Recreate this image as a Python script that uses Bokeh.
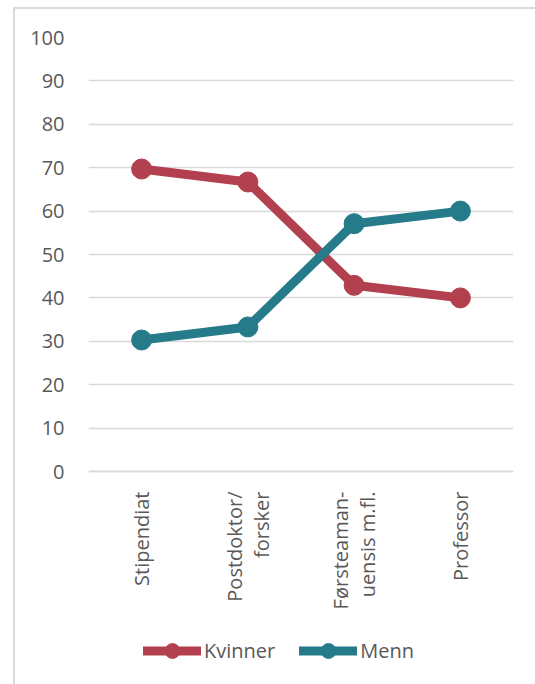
from bokeh.plotting import figure
from bokeh.models import FactorRange, Range1d, FixedTicker, Legend, LegendItem
from bokeh.embed import file_html
from bokeh.resources import INLINE

categories = ["Stipendiat", "Postdoktor/\nforsker", "Førsteaman-\nuensis m.fl.", "Professor"]
kvinner = [69.7, 66.7, 42.9, 40.0]
menn = [30.3, 33.3, 57.1, 60.0]
y_ticks = [0, 10, 20, 30, 40, 50, 60, 70, 80, 90, 100]

RED = "#B2404E"
TEAL = "#257B8A"
TXT = "#595959"
GRID = "#D9D9D9"
FONT = "Open Sans"

# frame extends below the value axis so the category labels and legend live inside it
PX_PER_UNIT = 4.34
FRAME_H = 647
Y_MAX = 100
Y_MIN = Y_MAX - FRAME_H / PX_PER_UNIT

p = figure(frame_width=425, frame_height=FRAME_H,
           x_range=FactorRange(*categories, range_padding=0),
           y_range=Range1d(Y_MIN, Y_MAX), output_backend="svg", toolbar_location=None,
           min_border_left=73, min_border_right=22, min_border_top=28, min_border_bottom=0)
p.styles = {"border-left": "2px solid #D9D9D9", "border-top": "2px solid #D9D9D9",
            "margin-left": "13px", "margin-top": "7px"}
p.outline_line_color = None
p.background_fill_color = "white"
p.border_fill_color = "white"

p.xgrid.grid_line_color = None
p.ygrid.grid_line_color = GRID
p.ygrid.grid_line_width = 1.5
p.yaxis.ticker = FixedTicker(ticks=y_ticks)
p.yaxis.axis_line_color = None
p.yaxis.major_tick_line_color = None
p.yaxis.minor_tick_line_color = None
p.yaxis.major_label_standoff = 18
p.xaxis.fixed_location = 0
p.xaxis.axis_line_color = GRID
p.xaxis.axis_line_width = 1.5
p.xaxis.major_tick_line_color = None
p.xaxis.major_label_orientation = 1.5708
p.xaxis.major_label_standoff = 14
p.xaxis.major_label_text_line_height = 1.0
for ax in (p.xaxis, p.yaxis):
    ax.major_label_text_font = FONT
    ax.major_label_text_font_size = "20px"
    ax.major_label_text_color = TXT

lk = p.line(categories, kvinner, line_color=RED, line_width=9, line_join="round", line_cap="round")
sk = p.scatter(categories, kvinner, size=20, fill_color=RED, line_color=RED)
lm = p.line(categories, menn, line_color=TEAL, line_width=9, line_join="round", line_cap="round")
sm = p.scatter(categories, menn, size=20, fill_color=TEAL, line_color=TEAL)

legend = Legend(items=[LegendItem(label="Kvinner", renderers=[lk, sk]),
                       LegendItem(label="Menn", renderers=[lm, sm])],
                orientation="horizontal", location=(55, 15),
                glyph_width=58, glyph_height=37, spacing=24, label_standoff=3,
                label_text_font=FONT, label_text_font_size="20px", label_text_color=TXT,
                border_line_color=None, background_fill_alpha=0, padding=0, margin=0)
p.add_layout(legend, "center")

open("out.html", "w").write(file_html(p, INLINE))
